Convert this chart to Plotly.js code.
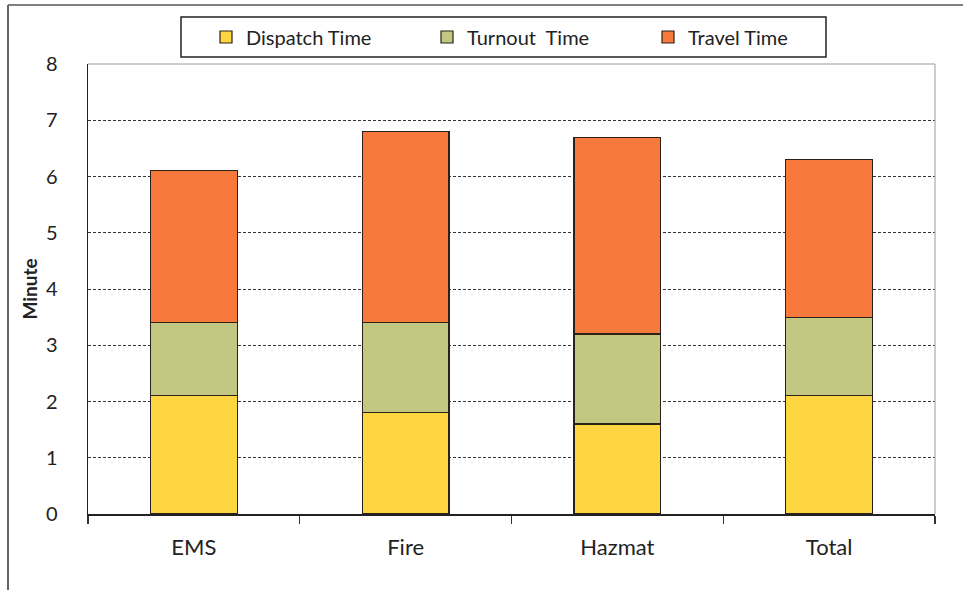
<!DOCTYPE html>
<html>
<head>
<meta charset="utf-8">
<script src="https://cdn.plot.ly/plotly-3.0.1.min.js"></script>
<style>
  html, body { margin: 0; padding: 0; background: #ffffff; }
  #chart { width: 963px; height: 590px; }
</style>
</head>
<body>
<div id="chart"></div>
<script>
// Response time components by call type (minutes)
const categories = ["EMS", "Fire", "Hazmat", "Total"];
const dispatchTime = [2.1, 1.8, 1.6, 2.1];
const turnoutTime = [1.3, 1.6, 1.6, 1.4];
const travelTime = [2.7, 3.4, 3.5, 2.8];
const seriesNames = ["Dispatch Time", "Turnout  Time", "Travel Time"];
const seriesColors = ["#FDD642", "#C2C881", "#F77A3C"];
const yTicks = [0, 1, 2, 3, 4, 5, 6, 7, 8];

const W = 963, H = 590;
const M = { l: 88, r: 28, t: 64, b: 76 };
const pw = W - M.l - M.r, ph = H - M.t - M.b;
// pixel -> paper coordinate helpers for the decorative frame
const px = x => (x - M.l) / pw;
const py = y => (H - M.b - y) / ph;

const outline = { color: "#2b2118", width: 1.2 };
const traces = [dispatchTime, turnoutTime, travelTime].map((vals, i) => ({
  type: "bar",
  name: seriesNames[i],
  x: categories,
  y: vals,
  marker: { color: seriesColors[i], line: outline },
  hoverinfo: "x+y+name"
}));

const font = "Lato, 'Open Sans', sans-serif";

const layout = {
  width: W, height: H,
  margin: M,
  barmode: "stack",
  bargap: 0.59,
  paper_bgcolor: "#ffffff",
  plot_bgcolor: "#ffffff",
  font: { family: font, color: "#222222" },
  showlegend: true,
  legend: {
    orientation: "h",
    x: px(206), xanchor: "left",
    y: py(37), yanchor: "middle",
    font: { size: 20, family: font, color: "#222222" },
    bgcolor: "rgba(0,0,0,0)",
    borderwidth: 0,
    traceorder: "normal",
    itemwidth: 30,
    entrywidth: 176,
    entrywidthmode: "pixels"
  },
  xaxis: {
    type: "category",
    showline: true, linecolor: "#222222", linewidth: 1.5,
    ticks: "outside", tickson: "boundaries", ticklen: 8, tickcolor: "#333333", tickwidth: 1.2,
    showgrid: false,
    tickfont: { size: 22, family: font, color: "#222222" },
    ticklabelstandoff: 13,
    fixedrange: true
  },
  yaxis: {
    range: [0, 8],
    tickvals: yTicks,
    ticktext: yTicks.map(String),
    showline: true, linecolor: "#222222", linewidth: 1.5,
    ticks: "",
    showgrid: true, gridcolor: "#333333", gridwidth: 1, griddash: "3px,2px",
    zeroline: false,
    tickfont: { size: 20, family: font, color: "#222222" },
    ticklabelstandoff: 25,
    title: { text: "<b>Minute</b>", font: { size: 19, family: font, color: "#222222" }, standoff: 3 },
    fixedrange: true
  },
  shapes: [
    // light border on top and right of plot area
    { type: "line", xref: "paper", yref: "paper", x0: 0, x1: 1, y0: 1, y1: 1,
      line: { color: "#9a9a9a", width: 1 } },
    { type: "line", xref: "paper", yref: "paper", x0: 1, x1: 1, y0: 0, y1: 1,
      line: { color: "#9a9a9a", width: 1 } },
    // legend box
    { type: "rect", xref: "paper", yref: "paper",
      x0: px(181), x1: px(826), y0: py(57), y1: py(17),
      line: { color: "#222222", width: 1.5 }, fillcolor: "rgba(0,0,0,0)" },
    // outer chart frame (left and top edges)
    { type: "line", xref: "paper", yref: "paper", x0: px(8), x1: px(8), y0: py(5), y1: py(592),
      line: { color: "#333333", width: 1.5 } },
    { type: "line", xref: "paper", yref: "paper", x0: px(8), x1: px(965), y0: py(5), y1: py(5),
      line: { color: "#555555", width: 1.5 } }
  ]
};

Plotly.newPlot("chart", traces, layout, { displayModeBar: false, staticPlot: true });
</script>
</body>
</html>
